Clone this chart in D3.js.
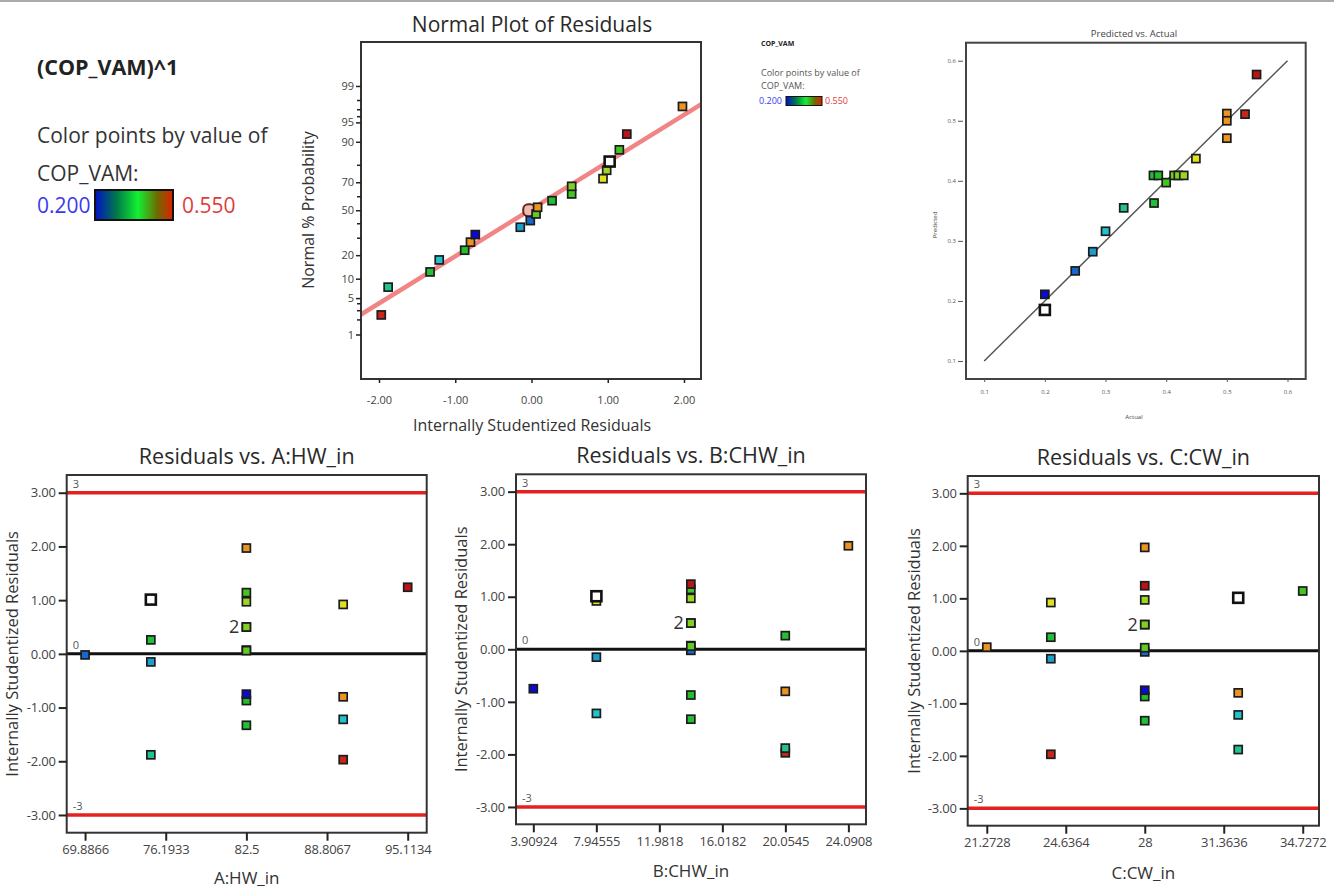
<!DOCTYPE html>
<html>
<head>
<meta charset="utf-8">
<script src="https://cdnjs.cloudflare.com/ajax/libs/d3/7.8.5/d3.min.js"></script>
<style>
  body { margin: 0; background: #fff; }
  svg { display: block; font-family: "Open Sans", sans-serif; }
</style>
</head>
<body>
<svg id="chart" width="1338" height="889"></svg>
<script>
// ---------- values ----------
var copLow = 0.200, copHigh = 0.550;

// design runs: factor settings, internally studentized residual, COP_VAM
var runA     = [90.07, 75.03, 82.5, 90.07, 82.5, 90.07, 82.5, 75.03, 69.8866, 82.5, 82.5, 75.03, 82.5, 82.5, 90.07, 82.5, 75.03, 82.5, 95.1134, 82.5];
var runB     = [20.05, 20.05, 14.0, 7.95, 14.0, 20.05, 3.90924, 7.95, 14.0, 14.0, 14.0, 20.05, 14.0, 14.0, 7.95, 14.0, 7.95, 14.0, 14.0, 24.0908];
var runC     = [24.0, 31.98, 28, 31.98, 28, 31.98, 28, 24.0, 28, 21.2728, 28, 24.0, 28, 28, 24.0, 28, 31.98, 34.7272, 28, 28];
var runResid = [-1.97, -1.88, -1.33, -1.22, -0.87, -0.80, -0.75, -0.15, -0.02, 0.07, 0.06, 0.26, 0.50, 0.50, 0.92, 0.97, 1.01, 1.14, 1.24, 1.97];
var runCop   = [0.53, 0.33, 0.379, 0.30, 0.387, 0.50, 0.20, 0.28, 0.25, 0.50, 0.41, 0.38, 0.42, 0.42, 0.449, 0.429, 0.20, 0.40, 0.549, 0.50];
var selectedRun = 16;

// normal probability plot
var normResid = [-1.97, -1.88, -1.33, -1.21, -0.876, -0.80, -0.737, -0.147, -0.016, 0.06, 0.08, 0.27, 0.527, 0.527, 0.938, 0.986, 1.025, 1.152, 1.25, 1.98];
var normPct   = [2.5, 7.5, 12.4, 17.6, 22.7, 27.5, 32.4, 37.5, 42.3, 47.2, 52.2, 57.1, 62.0, 67.3, 72.3, 77.3, 81.9, 87.1, 92.3, 97.4];
var normCop   = [0.53, 0.33, 0.379, 0.30, 0.387, 0.50, 0.20, 0.28, 0.25, 0.41, 0.50, 0.38, 0.40, 0.42, 0.449, 0.429, 0.20, 0.40, 0.549, 0.50];
var normSelected = 16;
var normCursor = [-0.03, 50];
var normFit = [0.882, 0.02];   // slope, intercept (z = slope * resid + intercept)
var normPctTicks = [1, 5, 10, 20, 50, 70, 90, 95, 99];
var normPctMinor = [2, 3, 4, 30, 40, 60, 80, 96, 97, 98];
var normResidTicks = [-2, -1, 0, 1, 2];
var normResidDomain = [-2.236, 2.223];
var normZDomain = [-3.16, 3.15];

// predicted vs actual
var actual    = [0.549, 0.530, 0.500, 0.500, 0.500, 0.449, 0.379, 0.387, 0.413, 0.420, 0.429, 0.400, 0.380, 0.330, 0.300, 0.279, 0.250, 0.200, 0.200];
var predicted = [0.577, 0.511, 0.512, 0.500, 0.471, 0.437, 0.409, 0.409, 0.409, 0.409, 0.409, 0.397, 0.363, 0.355, 0.316, 0.282, 0.250, 0.211, 0.185];
var pvaSelected = 18;
var pvaTicks = [0.1, 0.2, 0.3, 0.4, 0.5, 0.6];
var pvaDomain = [0.07, 0.63];

// residual vs factor panels
var residTicks = [-3, -2, -1, 0, 1, 2, 3];
var residDomain = [-3.33, 3.33];
var limitLines = [3, 0, -3];
var hwTicks  = [69.8866, 76.1933, 82.5, 88.8067, 95.1134];
var chwTicks = [3.90924, 7.94555, 11.9818, 16.0182, 20.0545, 24.0908];
var cwTicks  = [21.2728, 24.6364, 28, 31.3636, 34.7272];
var hwDomain  = [68.45, 96.6];
var chwDomain = [2.80, 25.22];
var cwDomain  = [20.46, 35.42];

// ---------- drawing ----------
var svg = d3.select("#chart");

var color = d3.scaleLinear()
    .domain([0.2, 0.3, 0.39, 0.45, 0.5, 0.525, 0.55])
    .range(["#0a0ad0", "#22c4cc", "#22c022", "#e2e222", "#ea9422", "#cc2a1c", "#b81414"])
    .clamp(true);

// inverse normal cdf (Abramowitz & Stegun 26.2.23)
function probit(p) {
    if (p === 0.5) return 0;
    var q = p < 0.5 ? p : 1 - p;
    var t = Math.sqrt(-2 * Math.log(q));
    var z = t - (2.515517 + 0.802853 * t + 0.010328 * t * t) /
        (1 + 1.432788 * t + 0.189269 * t * t + 0.001308 * t * t * t);
    return p < 0.5 ? -z : z;
}

// gray rule at very top
svg.append("line").attr("x1", 0).attr("x2", 1334).attr("y1", 1).attr("y2", 1)
    .attr("stroke", "#aaa").attr("stroke-width", 2);

var defs = svg.append("defs");
var grad = defs.append("linearGradient").attr("id", "copGrad");
[["0%", "#0010c8"], ["28%", "#007a48"], ["55%", "#12f032"], ["80%", "#6e6a00"], ["100%", "#e02000"]]
    .forEach(function (s) {
        grad.append("stop").attr("offset", s[0]).attr("stop-color", s[1]);
    });

function drawPoint(g, px, py, cop, selected, size) {
    if (selected) {
        g.append("rect")
            .attr("x", px - 5).attr("y", py - 5).attr("width", 10).attr("height", 10)
            .attr("fill", "#fff").attr("stroke", "#111").attr("stroke-width", 2.6);
    } else {
        g.append("rect")
            .attr("x", px - size / 2).attr("y", py - size / 2)
            .attr("width", size).attr("height", size)
            .attr("fill", color(cop)).attr("stroke", "#1c1c1c").attr("stroke-width", 1.7);
    }
}

// ----- big legend (top left) -----
var leg = svg.append("g");
leg.append("text").attr("x", 37).attr("y", 75).attr("font-size", 21.5).attr("font-weight", "bold")
    .attr("fill", "#222").text("(COP_VAM)^1");
leg.append("text").attr("x", 37).attr("y", 143).attr("font-size", 21).attr("fill", "#333")
    .text("Color points by value of");
leg.append("text").attr("x", 37).attr("y", 181).attr("font-size", 21).attr("fill", "#333")
    .text("COP_VAM:");
leg.append("text").attr("x", 37).attr("y", 213).attr("font-size", 21).attr("fill", "#3a3aee")
    .text(d3.format(".3f")(copLow));
leg.append("rect").attr("x", 95).attr("y", 190).attr("width", 78).attr("height", 30)
    .attr("fill", "url(#copGrad)").attr("stroke", "#111").attr("stroke-width", 2);
leg.append("text").attr("x", 182).attr("y", 213).attr("font-size", 21).attr("fill", "#e03c3c")
    .text(d3.format(".3f")(copHigh));

// ----- small legend -----
var sleg = svg.append("g").attr("font-size", 9);
sleg.append("text").attr("x", 761).attr("y", 46).attr("font-size", 7).attr("font-weight", "bold")
    .attr("fill", "#222").text("COP_VAM");
sleg.append("text").attr("x", 761).attr("y", 75.5).attr("fill", "#555").text("Color points by value of");
sleg.append("text").attr("x", 761).attr("y", 89).attr("fill", "#555").text("COP_VAM:");
sleg.append("text").attr("x", 759).attr("y", 104).attr("fill", "#3a3aee").text(d3.format(".3f")(copLow));
sleg.append("rect").attr("x", 786).attr("y", 96.5).attr("width", 36).attr("height", 9)
    .attr("fill", "url(#copGrad)").attr("stroke", "#111").attr("stroke-width", 1);
sleg.append("text").attr("x", 825).attr("y", 104).attr("fill", "#e03c3c").text(d3.format(".3f")(copHigh));

// ----- normal plot of residuals -----
(function () {
    var box = {left: 361, right: 701, top: 42, bottom: 379};
    var x = d3.scaleLinear().domain(normResidDomain).range([box.left, box.right]);
    var z = d3.scaleLinear().domain(normZDomain).range([box.bottom, box.top]);
    var g = svg.append("g");

    defs.append("clipPath").attr("id", "normClip").append("rect")
        .attr("x", box.left).attr("y", box.top)
        .attr("width", box.right - box.left).attr("height", box.bottom - box.top);

    g.append("line")
        .attr("clip-path", "url(#normClip)")
        .attr("x1", x(normResidDomain[0])).attr("y1", z(normFit[0] * normResidDomain[0] + normFit[1]))
        .attr("x2", x(normResidDomain[1])).attr("y2", z(normFit[0] * normResidDomain[1] + normFit[1]))
        .attr("stroke", "#f07878").attr("stroke-width", 4.5).attr("opacity", 0.9);

    g.append("rect")
        .attr("x", x(normCursor[0]) - 6).attr("y", z(probit(normCursor[1] / 100)) - 6)
        .attr("width", 12).attr("height", 12).attr("rx", 5)
        .attr("fill", "#f2b8b0").attr("stroke", "#5a2818").attr("stroke-width", 2);

    normResid.forEach(function (r, i) {
        if (i === normSelected) return;
        drawPoint(g, x(r), z(probit(normPct[i] / 100)), normCop[i], false, 8);
    });
    drawPoint(g, x(normResid[normSelected]), z(probit(normPct[normSelected] / 100)), 0, true, 8);

    g.append("rect")
        .attr("x", box.left).attr("y", box.top)
        .attr("width", box.right - box.left).attr("height", box.bottom - box.top)
        .attr("fill", "none").attr("stroke", "#333").attr("stroke-width", 2);

    var xAxis = g.append("g").attr("transform", "translate(0," + box.bottom + ")")
        .call(d3.axisBottom(x).tickValues(normResidTicks).tickSize(4).tickPadding(13)
            .tickFormat(function (d) { return d.toFixed(2); }));
    var yAxis = g.append("g").attr("transform", "translate(" + box.left + ",0)")
        .call(d3.axisLeft(z).tickValues(normPctTicks.map(function (p) { return probit(p / 100); }))
            .tickSize(5).tickPadding(2)
            .tickFormat(function (d, i) { return normPctTicks[i]; }));
    yAxis.selectAll(".minor").data(normPctMinor).enter().append("line")
        .attr("x1", -4).attr("x2", 0)
        .attr("y1", function (p) { return z(probit(p / 100)); })
        .attr("y2", function (p) { return z(probit(p / 100)); })
        .attr("stroke", "#222").attr("stroke-width", 1.5);
    [xAxis, yAxis].forEach(function (a) {
        a.select(".domain").remove();
        a.selectAll(".tick line").attr("stroke", "#222").attr("stroke-width", 1.5);
        a.selectAll("text").attr("font-size", 11).attr("fill", "#444")
            .attr("font-family", "'Open Sans', sans-serif");
    });

    g.append("text").attr("x", 532).attr("y", 32).attr("text-anchor", "middle")
        .attr("font-size", 21).attr("fill", "#2a2a2a").text("Normal Plot of Residuals");
    g.append("text").attr("x", 532).attr("y", 431).attr("text-anchor", "middle")
        .attr("font-size", 16).attr("fill", "#333").text("Internally Studentized Residuals");
    g.append("text").attr("transform", "translate(314,210) rotate(-90)").attr("text-anchor", "middle")
        .attr("font-size", 16).attr("fill", "#333").text("Normal % Probability");
})();

// ----- predicted vs actual -----
(function () {
    var box = {left: 966, right: 1305.7, top: 42.7, bottom: 379};
    var x = d3.scaleLinear().domain(pvaDomain).range([box.left, box.right]);
    var y = d3.scaleLinear().domain(pvaDomain).range([box.bottom, box.top]);
    var g = svg.append("g");

    g.append("line")
        .attr("x1", x(pvaTicks[0])).attr("y1", y(pvaTicks[0]))
        .attr("x2", x(pvaTicks[pvaTicks.length - 1])).attr("y2", y(pvaTicks[pvaTicks.length - 1]))
        .attr("stroke", "#555").attr("stroke-width", 1.5);

    actual.forEach(function (a, i) {
        if (i === pvaSelected) return;
        drawPoint(g, x(a), y(predicted[i]), a, false, 8);
    });
    drawPoint(g, x(actual[pvaSelected]), y(predicted[pvaSelected]), 0, true, 8);

    g.append("rect")
        .attr("x", box.left).attr("y", box.top)
        .attr("width", box.right - box.left).attr("height", box.bottom - box.top)
        .attr("fill", "none").attr("stroke", "#444").attr("stroke-width", 2);

    var xAxis = g.append("g").attr("transform", "translate(0," + box.bottom + ")")
        .call(d3.axisBottom(x).tickValues(pvaTicks).tickSize(3).tickPadding(8).tickFormat(d3.format(".1f")));
    var yAxis = g.append("g").attr("transform", "translate(" + (box.left - 3) + ",0)")
        .call(d3.axisLeft(y).tickValues(pvaTicks).tickSize(5).tickPadding(2).tickFormat(d3.format(".1f")));
    [xAxis, yAxis].forEach(function (a) {
        a.select(".domain").remove();
        a.selectAll(".tick line").attr("stroke", "#555");
        a.selectAll("text").attr("font-size", 6).attr("fill", "#555")
            .attr("font-family", "'Open Sans', sans-serif");
    });

    g.append("text").attr("x", 1134).attr("y", 37).attr("text-anchor", "middle")
        .attr("font-size", 9.5).attr("fill", "#444").text("Predicted vs. Actual");
    g.append("text").attr("x", 1134).attr("y", 419).attr("text-anchor", "middle")
        .attr("font-size", 6).attr("fill", "#444").text("Actual");
    g.append("text").attr("transform", "translate(937,225) rotate(-90)").attr("text-anchor", "middle")
        .attr("font-size", 6).attr("fill", "#444").text("Predicted");
})();

// ----- residuals vs factor panels -----
function drawResidualPanel(box, xDomain, xTicks, xValues, title, xLabel, yLabelX, xLabelY) {
    var x = d3.scaleLinear().domain(xDomain).range([box.left, box.right]);
    var y = d3.scaleLinear().domain(residDomain).range([box.bottom, box.top]);
    var g = svg.append("g");
    var cx = (box.left + box.right) / 2;

    limitLines.forEach(function (v) {
        g.append("line")
            .attr("x1", box.left).attr("x2", box.right).attr("y1", y(v)).attr("y2", y(v))
            .attr("stroke", v === 0 ? "#111" : "#e42020").attr("stroke-width", v === 0 ? 3 : 3.5);
        g.append("text").attr("x", box.left + 6).attr("y", y(v) - 5)
            .attr("font-size", 11).attr("fill", "#555").text(v);
    });

    // "2" where two runs sit on the same spot
    var counts = d3.rollup(d3.range(xValues.length), function (v) { return v.length; },
        function (i) { return xValues[i] + "|" + runResid[i]; });
    counts.forEach(function (n, key) {
        if (n < 2) return;
        var parts = key.split("|");
        g.append("text").attr("x", x(+parts[0]) - 7).attr("y", y(+parts[1]) + 6)
            .attr("text-anchor", "end").attr("font-size", 18).attr("fill", "#333").text(n);
    });

    xValues.forEach(function (v, i) {
        if (i === selectedRun) return;
        drawPoint(g, x(v), y(runResid[i]), runCop[i], false, 8);
    });
    drawPoint(g, x(xValues[selectedRun]), y(runResid[selectedRun]), 0, true, 8);

    g.append("rect")
        .attr("x", box.left).attr("y", box.top)
        .attr("width", box.right - box.left).attr("height", box.bottom - box.top)
        .attr("fill", "none").attr("stroke", "#333").attr("stroke-width", 2);

    var xAxis = g.append("g").attr("transform", "translate(0," + box.bottom + ")")
        .call(d3.axisBottom(x).tickValues(xTicks).tickSize(8).tickPadding(4)
            .tickFormat(function (d) { return String(d); }));
    var yAxis = g.append("g").attr("transform", "translate(" + box.left + ",0)")
        .call(d3.axisLeft(y).tickValues(residTicks).tickSize(8).tickPadding(3)
            .tickFormat(function (d) { return d.toFixed(2); }));
    [xAxis, yAxis].forEach(function (a) {
        a.select(".domain").remove();
        a.selectAll(".tick line").attr("stroke", "#222").attr("stroke-width", 2);
        a.selectAll("text").attr("font-size", 13).attr("fill", "#444").attr("letter-spacing", -0.2)
            .attr("font-family", "'Open Sans', sans-serif");
    });

    g.append("text").attr("x", cx).attr("y", box.top - 11).attr("text-anchor", "middle")
        .attr("font-size", 21.5).attr("fill", "#2a2a2a").text(title);
    g.append("text").attr("x", cx).attr("y", xLabelY).attr("text-anchor", "middle")
        .attr("font-size", 17).attr("fill", "#333").text(xLabel);
    g.append("text").attr("transform", "translate(" + yLabelX + "," + (box.top + box.bottom) / 2 + ") rotate(-90)")
        .attr("text-anchor", "middle").attr("font-size", 16.5).attr("fill", "#333")
        .text("Internally Studentized Residuals");
}

drawResidualPanel({left: 66.7, right: 426.7, top: 475, bottom: 832.7}, hwDomain, hwTicks, runA,
    "Residuals vs. A:HW_in", "A:HW_in", 18, 884);
drawResidualPanel({left: 516, right: 866, top: 474.3, bottom: 824.3}, chwDomain, chwTicks, runB,
    "Residuals vs. B:CHW_in", "B:CHW_in", 467, 877);
drawResidualPanel({left: 967.7, right: 1319, top: 476, bottom: 825.7}, cwDomain, cwTicks, runC,
    "Residuals vs. C:CW_in", "C:CW_in", 920, 879);
</script>
</body>
</html>
